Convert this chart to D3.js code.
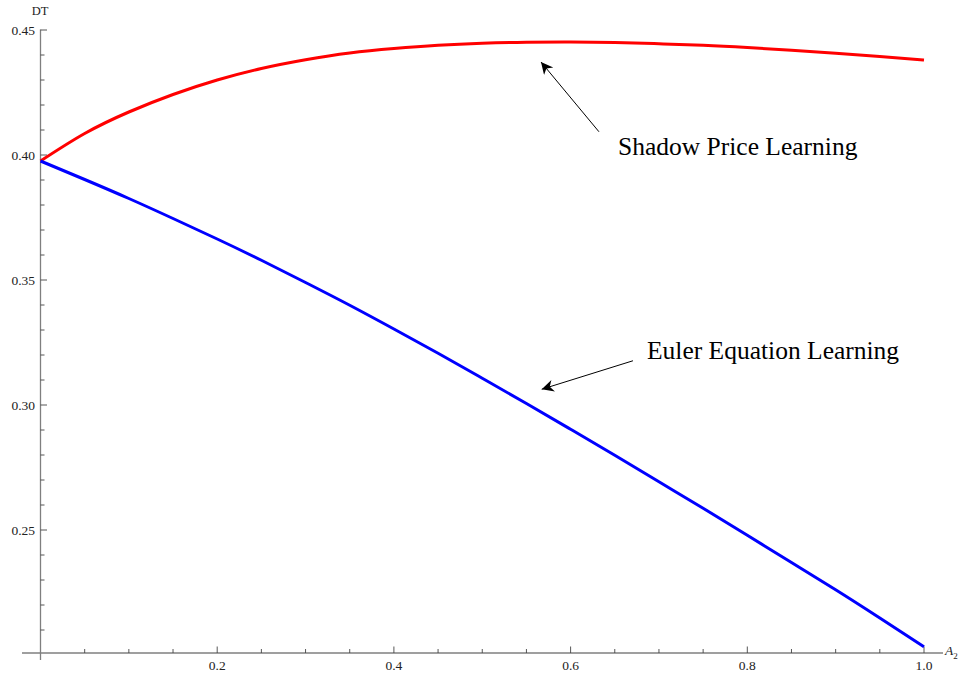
<!DOCTYPE html>
<html>
<head>
<meta charset="utf-8">
<script src="https://cdn.jsdelivr.net/npm/d3@7"></script>
<style>
    body { margin: 0; background: #fff; }
    text { font-family: "Liberation Serif", "Times New Roman", serif; }
</style>
</head>
<body>
<div id="chart"></div>
<script>
// data
var xValues = [0, 0.05, 0.1, 0.15, 0.2, 0.25, 0.3, 0.35, 0.4, 0.45, 0.5,
               0.55, 0.6, 0.65, 0.7, 0.75, 0.8, 0.85, 0.9, 0.95, 1.0];
var shadowPrice = [0.3976, 0.4086, 0.4172, 0.4242, 0.4300, 0.4346, 0.4381, 0.4408, 0.4426, 0.4439, 0.4447,
                   0.4451, 0.4452, 0.4450, 0.4445, 0.4439, 0.4430, 0.4419, 0.4407, 0.4394, 0.4380];
var eulerEquation = [0.3976, 0.3902, 0.3826, 0.3746, 0.3664, 0.3579, 0.3490, 0.3399, 0.3304, 0.3207, 0.3107,
                     0.3006, 0.2903, 0.2799, 0.2693, 0.2587, 0.2479, 0.2370, 0.2261, 0.2148, 0.2033];
var xTicks = [0.2, 0.4, 0.6, 0.8, 1.0];
var yTicks = [0.25, 0.30, 0.35, 0.40, 0.45];
var seriesNames = ["Shadow Price Learning", "Euler Equation Learning"];
var seriesColors = ["#ff0000", "#0000ff"];

var width = 974, height = 677;

var xScale = d3.scaleLinear().domain([0, 1]).range([40.5, 924]);
var yScale = d3.scaleLinear().domain([0.40, 0.45]).range([155, 30]);
var yBottom = 0.2008;

var svg = d3.select('#chart')
    .append('svg')
    .attr('width', width)
    .attr('height', height);

var axisColor = '#7f7f7f';

// X-axis line and ticks
var x0 = yScale(yBottom);
svg.append('line')
    .attr('x1', 22).attr('x2', 943)
    .attr('y1', x0).attr('y2', x0)
    .attr('stroke', axisColor).attr('stroke-width', 1.3);

var xMinor = d3.range(1, 21).map(function (i) { return i / 20; });
svg.selectAll('.xtick')
    .data(xMinor)
    .enter().append('line')
    .attr('class', 'xtick')
    .attr('x1', function (d) { return xScale(d); })
    .attr('x2', function (d) { return xScale(d); })
    .attr('y1', x0)
    .attr('y2', function (d) {
        var major = xTicks.some(function (t) { return Math.abs(t - d) < 1e-6; });
        return x0 - (major ? 6.5 : 4);
    })
    .attr('stroke', '#444').attr('stroke-width', 0.9);

svg.selectAll('.xlabel')
    .data(xTicks)
    .enter().append('text')
    .attr('class', 'xlabel')
    .attr('x', function (d) { return xScale(d); })
    .attr('y', 670)
    .attr('text-anchor', 'middle')
    .style('font-size', '13.5px')
    .attr('fill', '#222')
    .text(function (d) { return d3.format('.1f')(d); });

// Y-axis line and ticks
var y0 = xScale(0);
svg.append('line')
    .attr('x1', y0).attr('x2', y0)
    .attr('y1', 29.5).attr('y2', 660)
    .attr('stroke', axisColor).attr('stroke-width', 1.3);

var yMinor = d3.range(21, 46).map(function (i) { return i / 100; });
svg.selectAll('.ytick')
    .data(yMinor)
    .enter().append('line')
    .attr('class', 'ytick')
    .attr('y1', function (d) { return yScale(d); })
    .attr('y2', function (d) { return yScale(d); })
    .attr('x1', y0)
    .attr('x2', function (d) {
        var major = yTicks.some(function (t) { return Math.abs(t - d) < 1e-6; });
        return y0 + (major ? 6.5 : 4);
    })
    .attr('stroke', '#444').attr('stroke-width', 0.9);

svg.selectAll('.ylabel')
    .data(yTicks)
    .enter().append('text')
    .attr('class', 'ylabel')
    .attr('x', 35)
    .attr('y', function (d) { return yScale(d) + 4.5; })
    .attr('text-anchor', 'end')
    .style('font-size', '13.5px')
    .attr('fill', '#222')
    .text(function (d) { return d3.format('.2f')(d); });

// axis names
svg.append('text')
    .attr('x', 40).attr('y', 15)
    .attr('text-anchor', 'middle')
    .style('font-size', '12.5px')
    .attr('fill', '#222')
    .text('DT');

var aLabel = svg.append('text')
    .attr('x', 945).attr('y', 655)
    .style('font-size', '13.5px')
    .attr('fill', '#222');
aLabel.append('tspan').style('font-style', 'italic').text('A');
aLabel.append('tspan').attr('dy', 4).style('font-size', '9px').text('2');

// curves
var line = d3.line()
    .x(function (d) { return xScale(d[0]); })
    .y(function (d) { return yScale(d[1]); })
    .curve(d3.curveNatural);

[shadowPrice, eulerEquation].forEach(function (vals, i) {
    svg.append('path')
        .datum(xValues.map(function (x, j) { return [x, vals[j]]; }))
        .attr('fill', 'none')
        .attr('stroke', seriesColors[i])
        .attr('stroke-width', 3)
        .attr('d', line);
});

// annotations: arrow tail, arrow tip, text anchor in data units
var notes = [
    {name: seriesNames[0], tail: [0.6321, 0.4093], tip: [0.5665, 0.4372], text: [0.6537, 0.4000]},
    {name: seriesNames[1], tail: [0.6706, 0.3177], tip: [0.5673, 0.3063], text: [0.6865, 0.3184]}
];

svg.append('defs').append('marker')
    .attr('id', 'arrow')
    .attr('viewBox', '0 0 10 10')
    .attr('refX', 10).attr('refY', 5)
    .attr('markerWidth', 18).attr('markerHeight', 12)
    .attr('markerUnits', 'userSpaceOnUse')
    .attr('orient', 'auto')
    .append('path')
    .attr('d', 'M0,0 L10,5 L0,10 L3,5 Z')
    .attr('fill', '#000');

notes.forEach(function (n) {
    svg.append('line')
        .attr('x1', xScale(n.tail[0])).attr('y1', yScale(n.tail[1]))
        .attr('x2', xScale(n.tip[0])).attr('y2', yScale(n.tip[1]))
        .attr('stroke', '#000').attr('stroke-width', 1)
        .attr('marker-end', 'url(#arrow)');
    svg.append('text')
        .attr('x', xScale(n.text[0])).attr('y', yScale(n.text[1]))
        .style('font-size', '25.5px')
        .attr('fill', '#000')
        .text(n.name);
});
</script>
</body>
</html>
